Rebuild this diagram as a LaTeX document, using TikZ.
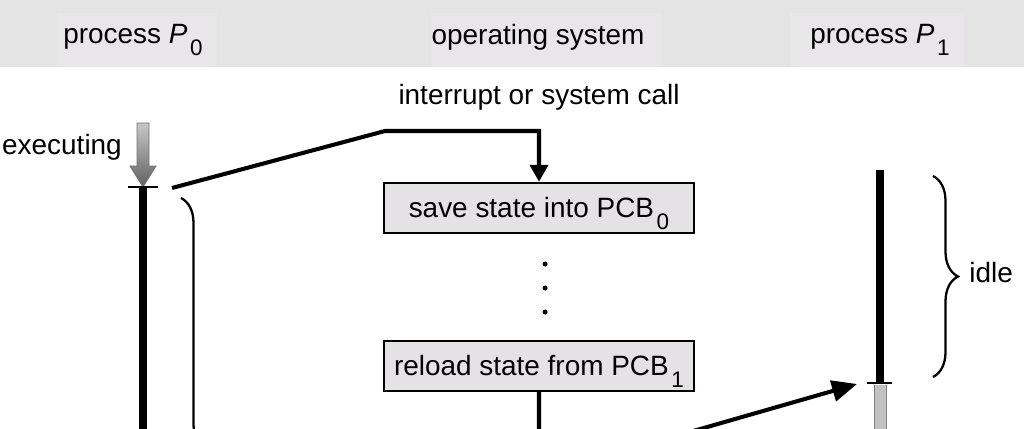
\documentclass[tikz,border=0pt]{standalone}
\usepackage{fontspec}
\setmainfont{Liberation Sans}
\usetikzlibrary{positioning}
\usetikzlibrary{arrows.meta}
\usetikzlibrary{decorations.pathreplacing}
\definecolor{headgray}{RGB}{228,228,228}
\definecolor{labgray}{RGB}{232,230,232}
\definecolor{boxgray}{RGB}{228,226,228}
\newcommand\lowsub[1]{\kern1.5pt\raisebox{-0.8ex}[0pt][0pt]{\fontsize{12.8}{13}\selectfont #1}}
\tikzset{
    osbox/.style = {rectangle, draw=black, line width=1.4pt, fill=boxgray, minimum width=6.2cm, minimum height=1.0cm},
    headbox/.style = {rectangle, fill=labgray, inner sep=0pt, minimum height=1.08cm},
    txt/.style = {inner sep=0pt},
    dotn/.style = {circle, fill=black, inner sep=0pt, minimum size=0.1cm},
    procbar/.style = {line width=4.3pt},
    tickn/.style = {line width=1.2pt},
    edgek/.style = {line width=2.3pt, -{Triangle[length=3.4mm,width=3.6mm]}},
    edgekb/.style = {line width=2.3pt, -{Triangle[length=5mm,width=4.2mm]}}, % switch back
    bracen/.style = {line width=1.3pt, decorate, decoration={brace, amplitude=0.5cm}},
}

\begin{document}
\begin{tikzpicture}[x=0.02cm, y=-0.02cm, font=\fontsize{15.9}{18}\selectfont]
  \useasboundingbox (0,0) rectangle (1024,429);
  \clip (0,0) rectangle (1024,429);

  % header
  \fill[headgray] (0,0) rectangle (1024,67);
  \node[headbox, minimum width=3.22cm] (h0) at (137,40) {};
  \node[headbox, minimum width=4.6cm] (h1) at (546,40) {};
  \node[headbox, minimum width=3.5cm] (h2) at (877,40) {};
  \node[txt] (p0) at (133,37) {process \textit{P}\lowsub{0}};
  \node[txt] (os) at (538,37) {operating system};
  \node[txt] (p1) at (880,37) {process \textit{P}\lowsub{1}};

  % process P0
  \node[txt] (exe) at (62,147) {executing};
  \path[shade, top color=black!22, bottom color=black!62, draw=black!55, line width=0.5pt]
    (137,123) -- (149,123) -- (149,166) -- (156,166) -- (143,187) -- (130,166) -- (137,166) -- cycle;
  \coordinate (a0) at (143,187);
  \coordinate (a1) at (143,440);
  \draw[procbar] (a0) -- (a1);
  \draw[tickn] (128,187) -- (158,187);
  \draw[bracen] (181,198) -- (181,700);

  % operating system
  \node[txt] (irq) at (539,97) {interrupt or system call};
  \node[osbox] (sbox) at (539,208) {save state into PCB\lowsub{0}};
  \node[osbox] (rbox) at (539,366) {reload state from PCB\lowsub{1}};
  \foreach \y/\n in {264/1,288/2,312/3}
    \node[dotn] (d\n) at (545,\y) {};

  \coordinate (from0) at (172,188);
  \draw[edgek] (from0) -- (385,131) -| (sbox.north);

  % process P1
  \coordinate (b0) at (880,170);
  \coordinate (b1) at (880,383);
  \draw[procbar] (b0) -- (b1);
  \fill[black!24] (874,385) rectangle (886,440);
  \draw[black!50, line width=0.4pt] (874,385) -- (874,440) (886,385) -- (886,440);
  \draw[tickn] (867,383) -- (892,383);
  \coordinate (to1) at (857,384);
  \draw[edgekb] (rbox.south) |- (662,440) -- (to1);

  \draw[bracen] (933,176) -- (933,377);
  \node[txt, anchor=west] (idle) at (969,273) {idle};
\end{tikzpicture}
\end{document}
